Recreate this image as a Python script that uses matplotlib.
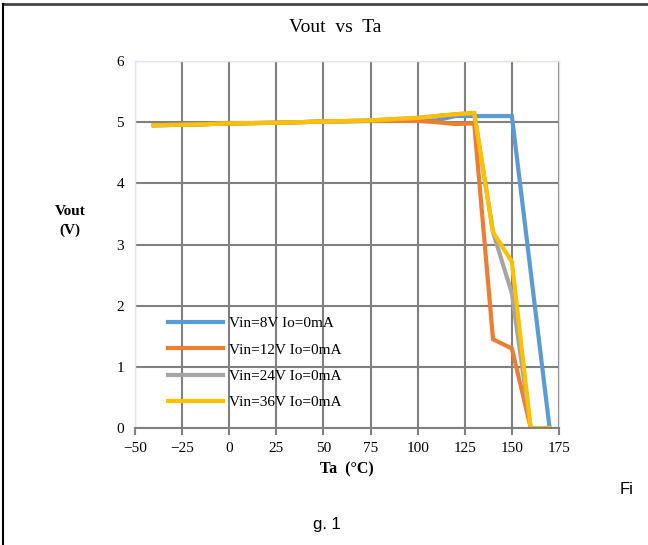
import numpy as np
import matplotlib.pyplot as plt
from matplotlib.lines import Line2D

# temperatures (degC) and output voltage (V)
ta_8v = [-40, -20, 0, 25, 50, 75, 100, 110, 120, 130, 140, 150, 170]
vout_8v = [4.95, 4.96, 4.98, 4.99, 5.01, 5.02, 5.03, 5.03, 5.10, 5.10, 5.10, 5.10, 0.0]

ta_12v = [-40, -20, 0, 25, 50, 75, 100, 110, 120, 130, 140, 150, 160]
vout_12v = [4.95, 4.96, 4.98, 4.99, 5.01, 5.02, 5.02, 5.0, 4.97, 4.98, 1.45, 1.30, 0.0]

ta_24v = [-40, -20, 0, 25, 50, 75, 100, 120, 130, 140, 150, 160]
vout_24v = [4.95, 4.96, 4.98, 4.99, 5.01, 5.03, 5.07, 5.13, 5.15, 3.2, 2.2, 0.0]

ta_36v = [-40, -20, 0, 25, 50, 75, 100, 120, 130, 140, 150, 160, 170]
vout_36v = [4.95, 4.96, 4.98, 4.99, 5.01, 5.03, 5.07, 5.13, 5.15, 3.2, 2.72, 0.0, 0.0]

labels = ['Vin=8V Io=0mA', 'Vin=12V Io=0mA', 'Vin=24V Io=0mA', 'Vin=36V Io=0mA']
colors = ['#5b9bd5', '#ed7d31', '#a5a5a5', '#ffc000']

serif = 'Liberation Serif'

fig = plt.figure(figsize=(6.48, 5.45), dpi=100)
ax = fig.add_axes([135/648, 117/545, 424/648, 367/545])

ax.plot(ta_8v, vout_8v, color=colors[0], lw=3, label=labels[0], solid_joinstyle='miter')
ax.plot(ta_12v, vout_12v, color=colors[1], lw=3, label=labels[1], solid_joinstyle='miter')
ax.plot(ta_24v, vout_24v, color=colors[2], lw=3, label=labels[2], solid_joinstyle='miter')
ax.plot(ta_36v, vout_36v, color=colors[3], lw=3, label=labels[3], solid_joinstyle='miter')

ax.set_xlim(-50, 175)
ax.set_ylim(0, 6)
ax.set_xticks(np.arange(-50, 176, 25))
ax.set_yticks(np.arange(0, 7, 1))
ax.set_xticklabels(['\u221250', '\u221225', '0', '25', '50', '75', '100', '125', '150', '175'])
for lab in ax.get_xticklabels() + ax.get_yticklabels():
    lab.set_family(serif)
    lab.set_fontsize(11)

ax.grid(True, color='#808080', lw=1.5)
ax.set_axisbelow(True)
for s in ['top', 'left', 'right']:
    ax.spines[s].set_color('#dce6f2')
    ax.spines[s].set_linewidth(1)
ax.spines['bottom'].set_color('#808080')
ax.spines['bottom'].set_linewidth(1.5)
ax.tick_params(axis='y', length=0, pad=8)
ax.tick_params(axis='x', length=5, width=1.5, color='#808080', pad=5, direction='out')

ax.set_xlabel('Ta  (\u00b0C)', family=serif, fontsize=11.5, fontweight='bold', labelpad=5)
fig.text(70/648, 1 - 221/545, 'Vout\n(V)', family=serif, fontsize=11, fontweight='bold',
         ha='center', va='center', linespacing=1.45)
fig.text(335/648, 1 - 28/545, 'Vout  vs  Ta', family=serif, fontsize=14, ha='center', va='center')

leg = ax.legend(loc='lower left', bbox_to_anchor=(0.046, 0.014), frameon=False,
                prop={'family': serif, 'size': 11}, handlelength=3.6, labelspacing=0.82,
                handletextpad=0.4)

fig.text(620/648, 1 - 490/545, 'Fi', family='Liberation Sans', fontsize=12, ha='left', va='center')
fig.text(327/648, 1 - 525/545, 'g. 1', family='Liberation Sans', fontsize=12, ha='center', va='center')

# page border (top and left)
fig.add_artist(Line2D([3/648, 1], [1 - 4/545, 1 - 4/545], transform=fig.transFigure, color='#444444', lw=2))
fig.add_artist(Line2D([3/648, 3/648], [0, 1 - 4/545], transform=fig.transFigure, color='black', lw=1.5))

fig.savefig('out.png', dpi=100)
